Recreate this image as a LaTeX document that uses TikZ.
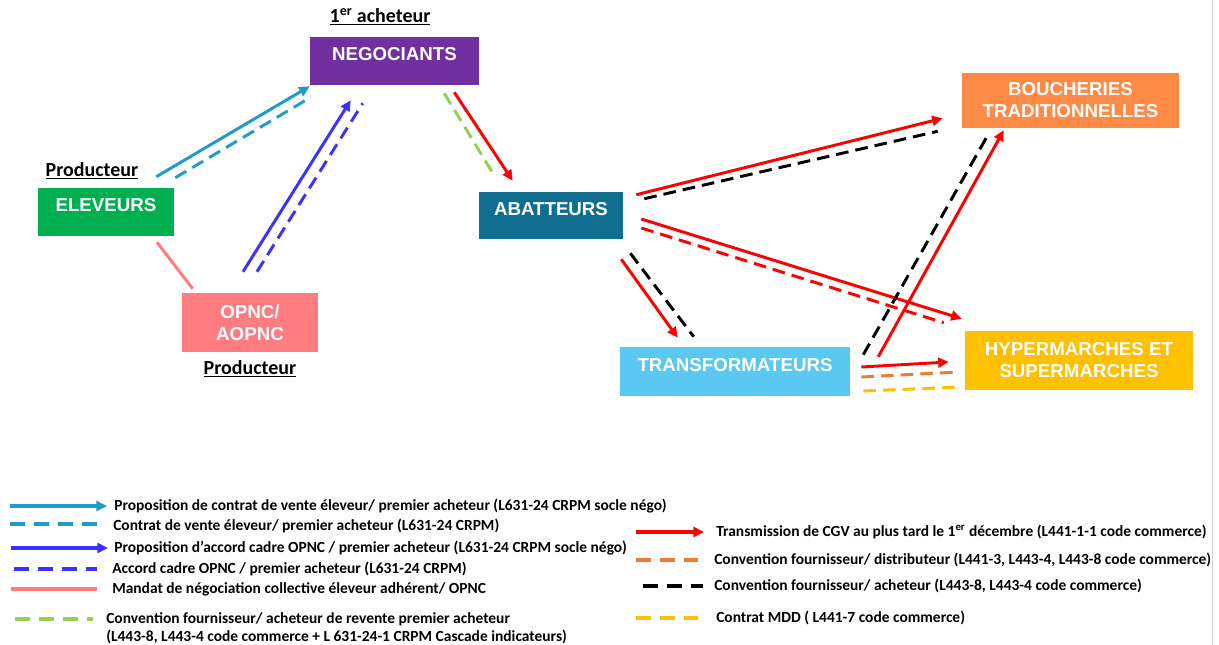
\documentclass[tikz,border=0pt]{standalone}
\usepackage{fontspec}
\setmainfont{Carlito}
\newfontfamily\boxfont{Liberation Sans}
\usetikzlibrary{arrows.meta,calc}

\definecolor{cvente}{RGB}{30,155,200}
\definecolor{caccord}{RGB}{60,50,255}
\definecolor{cmandat}{RGB}{255,124,128}
\definecolor{crevente}{RGB}{146,208,80}
\definecolor{ccgv}{RGB}{255,0,0}
\definecolor{cdistrib}{RGB}{237,125,49}
\definecolor{cmdd}{RGB}{255,192,0}
\definecolor{cneg}{RGB}{112,48,160}
\definecolor{celev}{RGB}{0,176,80}
\definecolor{cabat}{RGB}{16,110,145}
\definecolor{ctrans}{RGB}{90,200,240}
\definecolor{cbouch}{RGB}{255,138,70}
\definecolor{chyper}{RGB}{255,192,0}

\begin{document}
\begin{tikzpicture}[x=0.025cm,y=-0.025cm,
  acteur/.style={text=white, font=\boxfont\bfseries\fontsize{13.3}{15.6}\selectfont, align=center, inner sep=0pt},
  uneligne/.style={text depth=9.5pt},
  titre/.style={font=\bfseries\fontsize{14.2}{16}\selectfont},
  legende/.style={anchor=west, inner sep=0pt, align=left, font=\bfseries\fontsize{11}{12.8}\selectfont},
  trait/.style={line width=2.1pt},
  fleche/.style={trait, -{Triangle[length=7.5pt,width=7pt]}},
  tirets/.style={trait, dash pattern=on 9pt off 5pt},
  tiretsleg/.style={line width=2.4pt, dash pattern=on 10.7pt off 6.4pt}]

\fill[white] (0,0) rectangle (1219,645);
\useasboundingbox (0,0) rectangle (1219,645);
\draw[gray!35] (1212,0) -- (1212,645);

% acteurs
\node[acteur, uneligne, fill=cneg, minimum width=169*0.025cm, minimum height=48*0.025cm] (neg) at (394.5,61) {NEGOCIANTS};
\node[acteur, uneligne, fill=celev, minimum width=136*0.025cm, minimum height=48*0.025cm] (ele) at (106,212) {ELEVEURS};
\node[acteur, fill=cmandat, minimum width=136*0.025cm, minimum height=59*0.025cm] (opnc) at (250,322.5) {OPNC/\\AOPNC};
\node[acteur, uneligne, fill=cabat, minimum width=144*0.025cm, minimum height=47*0.025cm] (aba) at (551,215.5) {ABATTEURS};
\node[acteur, uneligne, fill=ctrans, minimum width=230*0.025cm, minimum height=49*0.025cm] (trans) at (735,371.5) {TRANSFORMATEURS};
\node[acteur, fill=cbouch, minimum width=217*0.025cm, minimum height=55*0.025cm] (bouch) at (1070.5,100.5) {BOUCHERIES\\TRADITIONNELLES};
\node[acteur, fill=chyper, minimum width=228*0.025cm, minimum height=59*0.025cm] (hyper) at (1079,360.5) {HYPERMARCHES ET\\SUPERMARCHES};

\node[titre] (achat) at (380,17) {\underline{1\textsuperscript{er} acheteur}};
\node[titre] (prod1) at (92,171) {\underline{Producteur}};
\node[titre] (prod2) at (250,369) {\underline{Producteur}};

% producteurs vers premier acheteur
\draw[fleche, cvente] ($(ele.north east)+(-18,-11)$) -- ($(neg.south west)+(0,1)$);
\draw[tirets, cvente] ($(ele.north east)+(1,-10)$) -- ($(neg.south west)+(1,12)$);
\draw[fleche, caccord] ($(opnc.north)+(-7,-21)$) -- ($(neg.south west)+(41,15)$);
\draw[tirets, caccord] ($(opnc.north)+(7,-21)$) -- ($(neg.south west)+(53,18)$);
\draw[trait, cmandat] ($(ele.south)+(51,6)$) -- ($(opnc.north west)+(11,-4)$);

% premier acheteur vers abatteurs
\draw[tirets, crevente] ($(neg.south east)+(-35,8)$) -- ($(aba.north west)+(15,-17)$);
\draw[fleche, ccgv] ($(neg.south east)+(-25,7)$) -- ($(aba.north west)+(34,-11)$);

% abatteurs
\draw[fleche, ccgv] ($(aba.north east)+(13,3)$) -- ($(bouch.south west)+(-19,-10)$);
\draw[tirets, black] ($(aba.north east)+(21,7)$) -- ($(bouch.south west)+(-24,3)$);
\draw[fleche, ccgv] ($(aba.east)+(18,3.5)$) -- ($(hyper.north west)+(-3,-12)$);
\draw[tirets, ccgv] ($(aba.east)+(18,12.5)$) -- ($(hyper.north west)+(-21,-8)$);
\draw[fleche, ccgv] ($(aba.south east)+(-2,20)$) -- ($(trans.north west)+(58,-9)$);
\draw[tirets, black] ($(aba.south east)+(7,14)$) -- ($(trans.north west)+(74,-10)$);

% transformateurs
\draw[tirets, black] ($(trans.north east)+(13,8)$) -- ($(bouch.south west)+(26,7)$);
\draw[fleche, ccgv] ($(trans.north east)+(28,10)$) -- ($(bouch.south west)+(42,2)$);
\draw[fleche, ccgv] ($(trans.east)+(11,-4.5)$) -- ($(hyper.west)+(-16,1.5)$);
\draw[tirets, cdistrib] ($(trans.east)+(11,5.5)$) -- ($(hyper.west)+(-7,11.5)$);
\draw[tirets, cmdd] ($(trans.east)+(13,19.5)$) -- ($(hyper.west)+(-3,26.5)$);

% legende
\node[legende] (l1) at (114,506) {Proposition de contrat de vente éleveur/ premier acheteur (L631-24 CRPM socle négo)};
\node[legende] (l2) at (113,526) {Contrat de vente éleveur/ premier acheteur (L631-24 CRPM)};
\node[legende] (l3) at (114,548) {Proposition d’accord cadre OPNC / premier acheteur (L631-24 CRPM socle négo)};
\node[legende] (l4) at (112,569) {Accord cadre OPNC / premier acheteur (L631-24 CRPM)};
\node[legende] (l5) at (112,589) {Mandat de négociation collective éleveur adhérent/ OPNC};
\node[legende] (l6) at (106,628) {Convention fournisseur/ acheteur de revente premier acheteur\\ (L443-8, L443-4 code commerce + L 631-24-1 CRPM Cascade indicateurs)};
\draw[fleche, cvente, line width=2.4pt] ($(l1.west)+(-104,0)$) -- ($(l1.west)+(-7,0)$);
\draw[tiretsleg, cvente] ($(l2.west)+(-103,-2)$) -- ($(l2.west)+(-16,-2)$);
\draw[fleche, caccord, line width=2.4pt] ($(l3.west)+(-103,0)$) -- ($(l3.west)+(-6,0)$);
\draw[tiretsleg, caccord] ($(l4.west)+(-98,0)$) -- ($(l4.west)+(-15,0)$);
\draw[line width=2.6pt, cmandat] ($(l5.west)+(-101,0)$) -- ($(l5.west)+(-15,0)$);
\draw[tiretsleg, crevente] ($(l6.west)+(-91,-9)$) -- ($(l6.west)+(-13,-9)$);

\node[legende] (r1) at (716,532) {Transmission de CGV au plus tard le 1\textsuperscript{er} décembre (L441-1-1 code commerce)};
\node[legende] (r2) at (714,560) {Convention fournisseur/ distributeur (L441-3, L443-4, L443-8 code commerce)};
\node[legende] (r3) at (714,586) {Convention fournisseur/ acheteur (L443-8, L443-4 code commerce)};
\node[legende] (r4) at (716,618) {Contrat MDD ( L441-7 code commerce)};
\draw[fleche, ccgv, line width=2.4pt] ($(r1.west)+(-80,0)$) -- ($(r1.west)+(-12,0)$);
\draw[tiretsleg, cdistrib] ($(r2.west)+(-78,0)$) -- ($(r2.west)+(-16,0)$);
\draw[tiretsleg, black] ($(r3.west)+(-71,0)$) -- ($(r3.west)+(-11,0)$);
\draw[tiretsleg, cmdd] ($(r4.west)+(-80,0)$) -- ($(r4.west)+(-18,0)$);

\end{tikzpicture}
\end{document}
